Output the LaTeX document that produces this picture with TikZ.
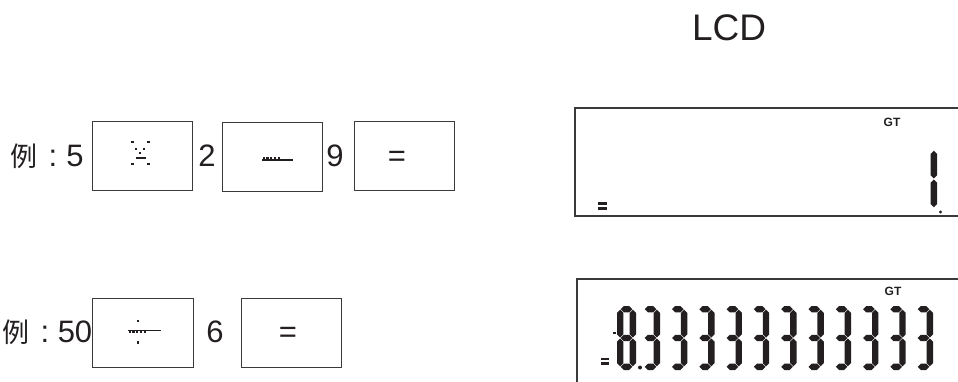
\documentclass[tikz,border=0pt]{standalone}
\usepackage{fontspec}
\setmainfont{Liberation Sans}
\newfontfamily\cjk{Noto Sans CJK SC}
\definecolor{ink}{HTML}{231F20}
\definecolor{frame}{HTML}{3A3A3A}
\tikzset{
  keybox/.style={draw=frame, line width=1pt},
  lcdbox/.style={draw=frame, line width=1.4pt},
  txt/.style={font=\fontsize{31}{31}\selectfont, text=ink, inner sep=0pt, anchor=base},
  cjktxt/.style={font=\cjk\fontsize{27}{27}\selectfont, text=ink, inner sep=0pt, anchor=base},
  segfill/.style={fill=ink},
  pix/.style={fill=ink},
  gtlabel/.style={font=\bfseries\fontsize{12}{12}\selectfont, text=ink, inner sep=0pt}
}
\newcommand\hseg[1]{\fill[segfill] (3.7,#1) -- (6.9,{#1-3.2}) -- (12.1,{#1-3.2}) -- (15.3,#1) -- (12.1,{#1+3.2}) -- (6.9,{#1+3.2}) -- cycle;}
\newcommand\vseg[3]{\fill[segfill] (#1,#2) -- ({#1+3.2},{#2+3.2}) -- ({#1+3.2},{#3-3.2}) -- (#1,#3) -- ({#1-3.2},{#3-3.2}) -- ({#1-3.2},{#2+3.2}) -- cycle;}
\newcommand\digitthree{\hseg{3.2}\hseg{32}\hseg{60.8}\vseg{15.8}{3.7}{31.5}\vseg{15.8}{32.5}{60.3}}
\newcommand\digiteight{\digitthree\vseg{3.2}{3.7}{31.5}\vseg{3.2}{32.5}{60.3}}
\newcommand\digitone{\vseg{15.8}{3.7}{31.5}\vseg{15.8}{32.5}{60.3}}
\newcommand\pixdot[2]{\fill[pix] ({#1-1.2},{#2-1.2}) rectangle ({#1+1.2},{#2+1.2});}
\begin{document}
\begin{tikzpicture}[x=1pt,y=-1pt]
\useasboundingbox (0,0) rectangle (958,382);

% title
\node[font=\fontsize{37}{37}\selectfont, text=ink, inner sep=0pt, anchor=base] (title) at (729,41) {LCD};

% ---- row 1 ----
\node[cjktxt] (ex1) at (24,167) {例};
\node[txt] (colon1) at (53,167) {:};
\node[txt] (n5) at (75,167) {5};
\draw[keybox] (92,122) rectangle (192,191);
\node[txt] (n2) at (207,167) {2};
\draw[keybox] (222,123) rectangle (322,192);
\node[txt] (n9) at (335,167) {9};
\draw[keybox] (354,122) rectangle (454,191);
\node[txt] (eq1) at (397,167) {=};

% times symbol (pixel style)
\pixdot{132.3}{142.3}\pixdot{148.3}{142.3}
\pixdot{136}{149}\pixdot{144}{149}
\pixdot{140}{153.3}
\fill[pix] (135.5,157) rectangle (146.2,159.4);
\pixdot{132.3}{164.3}\pixdot{148.3}{164.3}

% minus symbol
\foreach \xx in {262.6,266.4,270.2,274,277.8} {\fill[pix] (\xx,157.4) rectangle ({\xx+2.2},159.4);}
\fill[pix] (262,159.4) rectangle (293.3,161);

% ---- row 2 ----
\node[cjktxt] (ex2) at (16,342) {例};
\node[txt] (colon2) at (45,342) {:};
\node[txt] (n50) at (75,342) {50};
\draw[keybox] (92,298) rectangle (193,367);
\node[txt] (n6) at (215,342) {6};
\draw[keybox] (241,298) rectangle (341,367);
\node[txt] (eq2) at (288,342) {=};

% divide symbol
\pixdot{137.7}{320.7}
\fill[pix] (128.3,329.8) rectangle (160.7,331.4);
\foreach \xx in {128.5,132.3,136.1,139.9,143.7} {\fill[pix] (\xx,331.4) rectangle ({\xx+2.2},333.4);}
\pixdot{137.7}{342.3}

% ---- LCD 1 ----
\draw[lcdbox] (960,108) -- (575,108) -- (575,216) -- (960,216);
\node[gtlabel] (gt1) at (892,122.5) {GT};
\fill[ink] (597.5,202) rectangle (607,204.8);
\fill[ink] (597.5,207) rectangle (607,209.8);
\begin{scope}[shift={(918,147)}]\digitone\end{scope}
\fill[ink] (940.5,212) circle (1.7);

% ---- LCD 2 ----
\draw[lcdbox] (960,279) -- (577,279) -- (577,390);
\node[gtlabel] (gt2) at (893,291) {GT};
\fill[ink] (600.5,357.5) rectangle (609,360.2);
\fill[ink] (600.5,362.4) rectangle (609,365.1);
\fill[ink] (612.5,331.5) rectangle (615.5,333.5);
\begin{scope}[shift={(617,306)}]\digiteight\end{scope}
\fill[ink] (640,367.5) circle (2);
\foreach \k in {0,...,10} {
  \begin{scope}[shift={({641+27.3*\k},306)}]\digitthree\end{scope}
}
\end{tikzpicture}
\end{document}
